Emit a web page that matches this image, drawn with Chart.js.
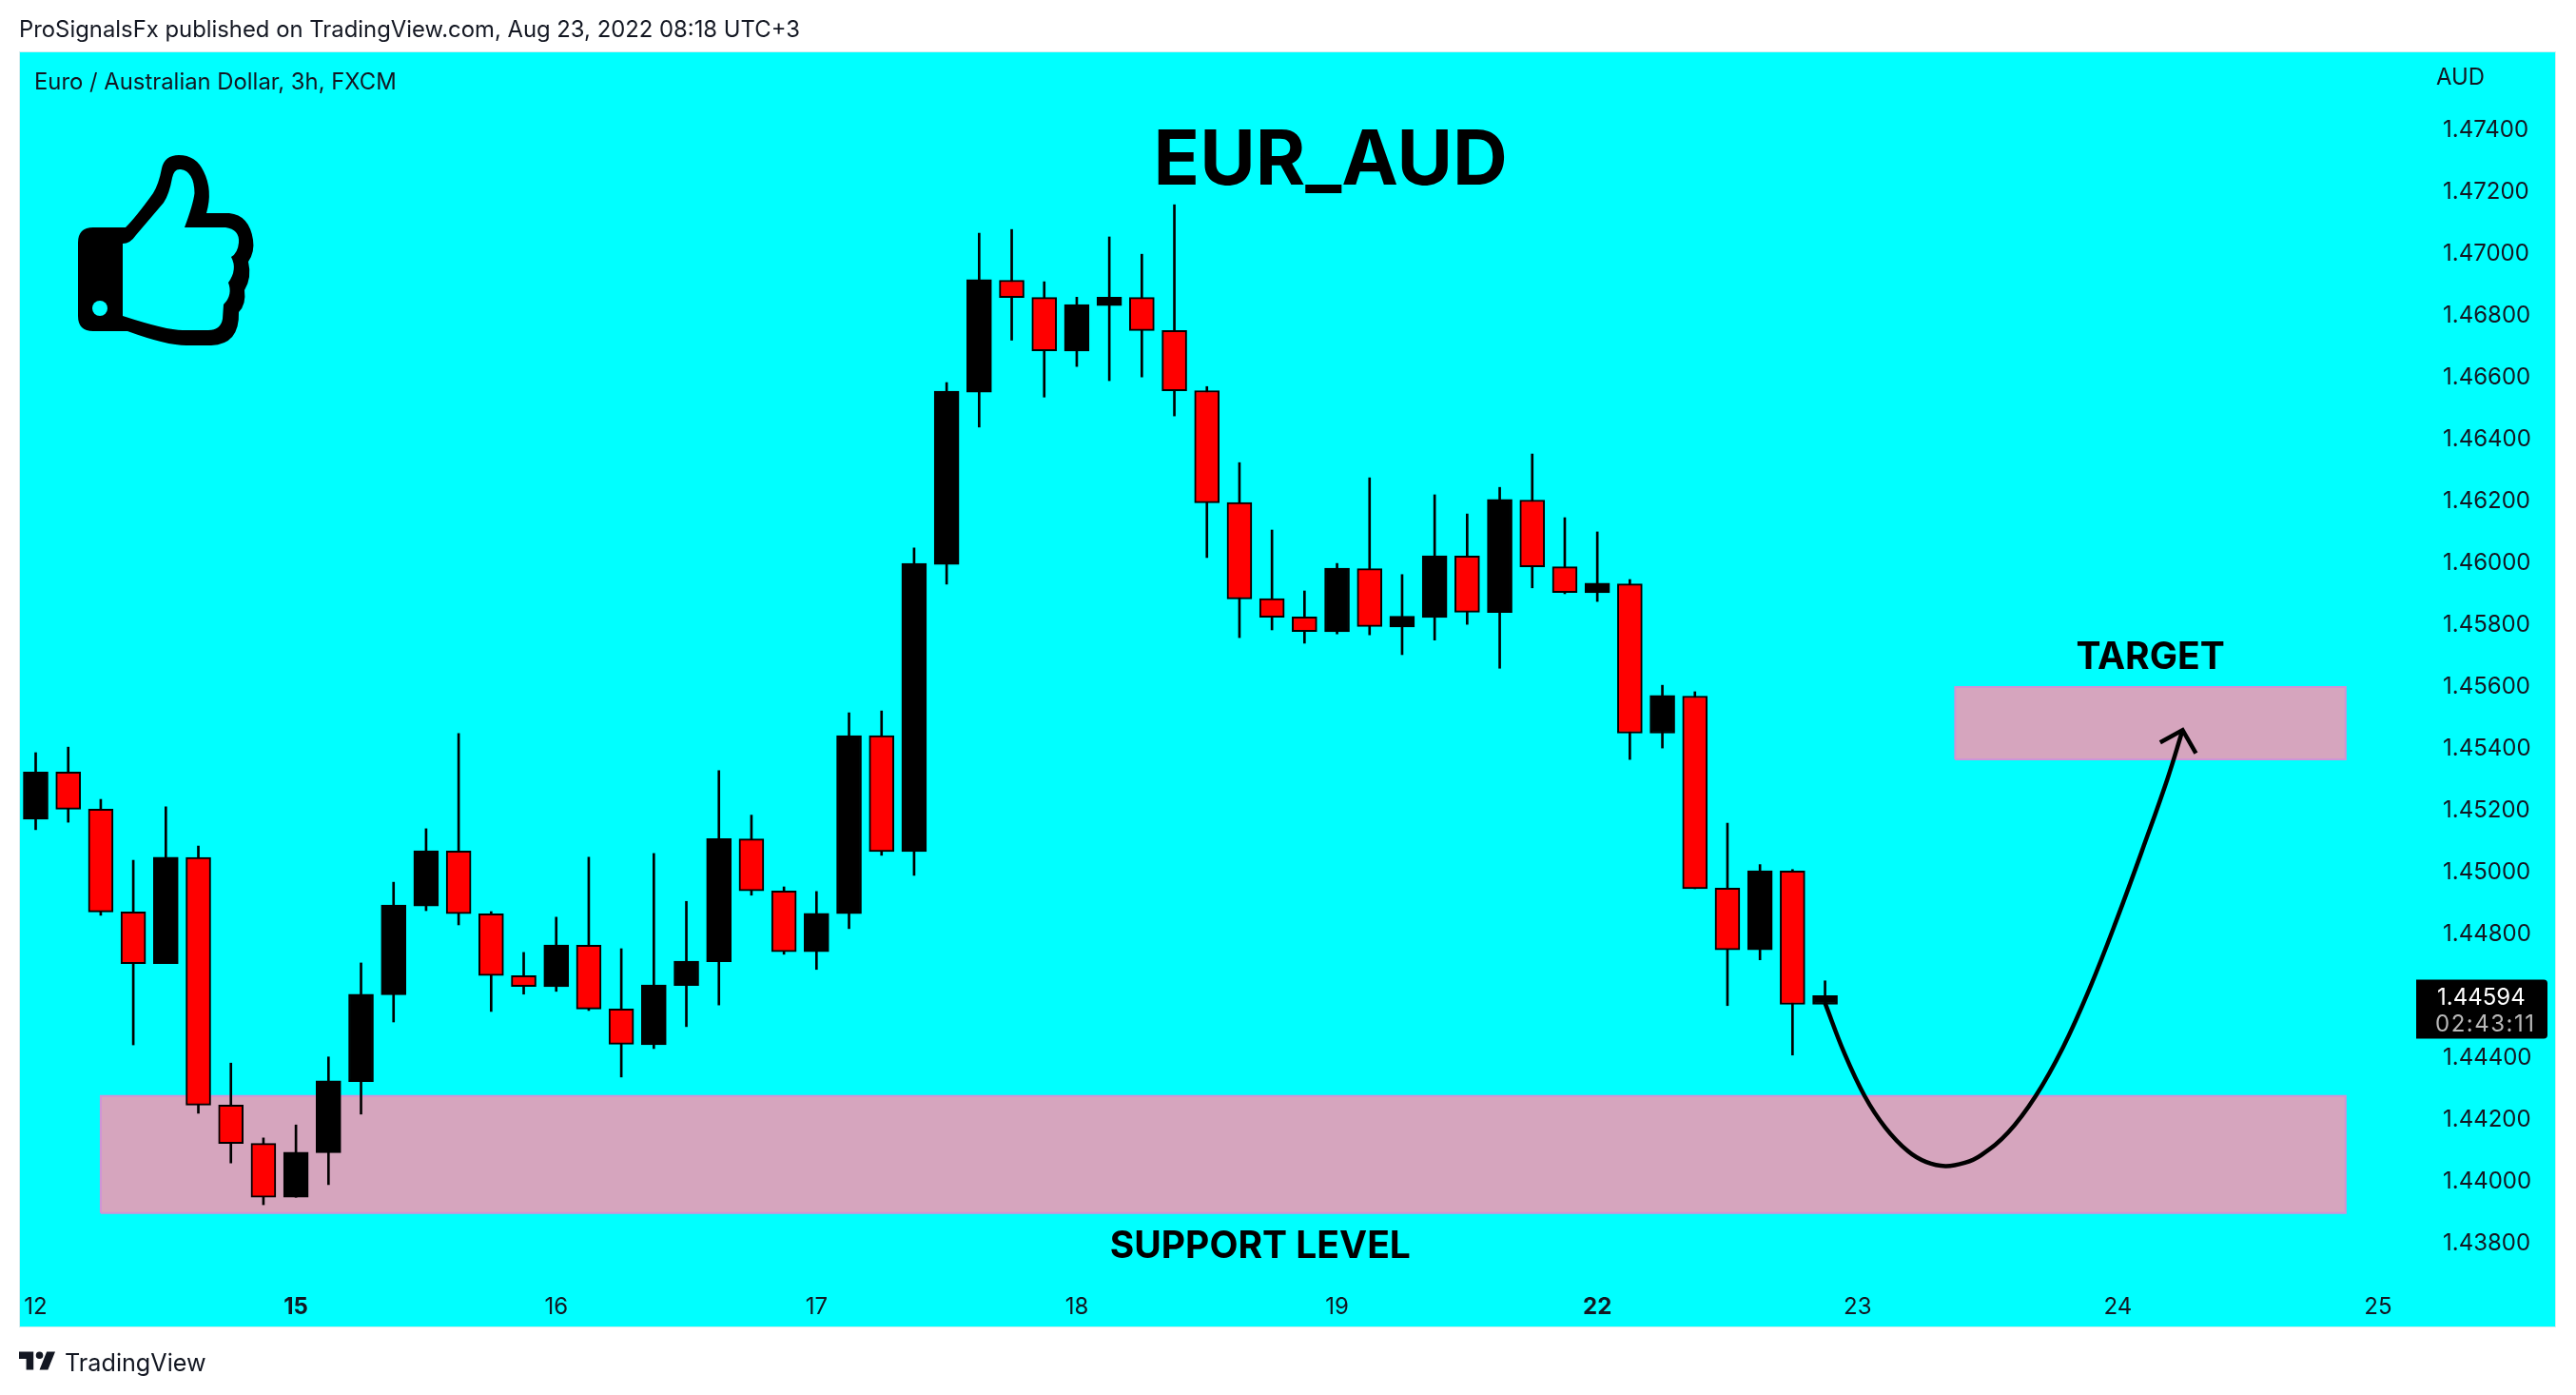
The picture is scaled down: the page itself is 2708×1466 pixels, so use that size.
<!DOCTYPE html>
<html>
<head>
<meta charset="utf-8">
<title>EUR_AUD</title>
<script src="https://cdn.jsdelivr.net/npm/chart.js@4"></script>
<style>
  html, body { margin: 0; padding: 0; background: #fff; width: 2708px; height: 1466px; overflow: hidden; }
  body { position: relative; font-family: Inter, sans-serif; color: #131722; }
  #panel { position: absolute; left: 20px; top: 54px; width: 2665px; height: 1339px; background: #00ffff; border: 1px solid #d6eef0; }
  #chart { position: absolute; left: 0; top: 0; }
  .txt { position: absolute; white-space: nowrap; font-size: 23.85px; line-height: 30px; }
  #thumb, #logo { position: absolute; }
</style>
</head>
<body>
<div id="panel"></div>
<canvas id="chart" width="2708" height="1466"></canvas>
<div class="txt" style="left:20px;top:16px">ProSignalsFx published on TradingView.com, Aug 23, 2022 08:18 UTC+3</div>
<div class="txt" style="left:36px;top:71px">Euro / Australian Dollar, 3h, FXCM</div>
<div class="txt" style="left:2561px;top:66px">AUD</div>
<svg id="thumb" style="left:0;top:0" width="300" height="400">
  <path fill="#000" fill-rule="evenodd" d="M98 239 H132 Q143 228 161 203 Q167 193 170 177 Q173 163 188 163 Q206 163 214 180 Q224 200 217 224 H241 Q262 226 266 252 Q268 265 261 275 Q265 292 257 305 Q259 320 251 328 Q252 362 222 363 H196 Q175 363 134 348 H98 Q82 348 82 332 V255 Q82 239 98 239 Z M129 256 Q137 256 143 247 L172 213 Q178 204 181 187 Q183 177 190 178 Q204 180 204.5 203 Q203 215 194 239 H237 Q252 241 251 255 Q250 266 243 270 Q250 283 240 297 Q245 310 235 320 L234 335 Q232 347 219 347 H192 Q175 347 129 332 Z"/>
  <circle cx="105" cy="324" r="8" fill="#00ffff"/>
</svg>
<svg id="logo" style="left:20px;top:1420px" width="38" height="20" viewBox="2 6 30 15">
  <path fill="#131722" d="M14 6H2v6h6v9h6V6zm12 15h-7l6-15h7l-6 15zm-7-9a3 3 0 1 0 0-6 3 3 0 0 0 0 6z"/>
</svg>
<div class="txt" style="left:68px;top:1417px;font-size:25.2px">TradingView</div>
<script>
// 3h candles, black = up, red = down
const opens = [1.45165,1.45317,1.45197,1.44865,1.44698,1.45041,1.44240,1.44116,1.43942,1.44086,1.44316,1.44597,1.44884,1.45062,1.44859,1.44659,1.44623,1.44757,1.44551,1.44435,1.44627,1.44704,1.45101,1.44933,1.44736,1.44859,1.45435,1.45060,1.45989,1.46546,1.46908,1.46852,1.46679,1.46826,1.46852,1.46745,1.46551,1.46189,1.45878,1.45819,1.45771,1.45975,1.45786,1.45817,1.46016,1.45833,1.46197,1.45981,1.45897,1.45926,1.45443,1.45563,1.44942,1.44742,1.44997,1.44566];
const closes = [1.45317,1.45197,1.44865,1.44698,1.45042,1.44240,1.44116,1.43942,1.44088,1.44319,1.44599,1.44887,1.45063,1.44859,1.44659,1.44624,1.44758,1.44551,1.44437,1.44629,1.44706,1.45102,1.44933,1.44736,1.44860,1.45435,1.45060,1.45992,1.46549,1.46910,1.46852,1.46680,1.46829,1.46853,1.46745,1.46550,1.46188,1.45877,1.45818,1.45772,1.45977,1.45788,1.45821,1.46017,1.45834,1.46199,1.45981,1.45898,1.45928,1.45443,1.45565,1.44940,1.44742,1.44998,1.44566,1.44594];
const highs = [1.45380,1.45398,1.45229,1.45032,1.45205,1.45078,1.44376,1.44134,1.44176,1.44396,1.44700,1.44961,1.45134,1.45442,1.44866,1.44734,1.44848,1.45042,1.44746,1.45054,1.44899,1.45322,1.45178,1.44946,1.44931,1.45509,1.45515,1.46042,1.46577,1.47060,1.47072,1.46903,1.46853,1.47048,1.46992,1.47152,1.46564,1.46318,1.46100,1.45903,1.45992,1.46269,1.45956,1.46214,1.46152,1.46238,1.46346,1.46140,1.46094,1.45940,1.45598,1.45577,1.45152,1.45018,1.45002,1.44642];
const lows = [1.45131,1.45155,1.44854,1.44435,1.44698,1.44214,1.44053,1.43918,1.43942,1.43983,1.44211,1.44509,1.44869,1.44823,1.44543,1.44599,1.44608,1.44546,1.44331,1.44423,1.44494,1.44564,1.44919,1.44728,1.44679,1.44811,1.45048,1.44983,1.45925,1.46433,1.46714,1.46530,1.46629,1.46583,1.46595,1.46469,1.46011,1.45752,1.45777,1.45734,1.45764,1.45761,1.45697,1.45744,1.45795,1.45653,1.45913,1.45894,1.45869,1.45358,1.45395,1.44940,1.44562,1.44710,1.44402,1.44564];

const dayLabels = ['12','15','16','17','18','19','22','23','24','25'];
const dayCandles = [0,8,16,24,32,40,48,56,64,72];
const boldDays = ['15','22'];
const priceTicks = [1.438,1.44,1.442,1.444,1.448,1.45,1.452,1.454,1.456,1.458,1.46,1.462,1.464,1.466,1.468,1.47,1.472,1.474];

const lastPrice = 1.44594;
const countdown = '02:43:11';

const supportX = [2,71];
const supportY = [1.43891,1.4427];
const targetX = [59,71];
const targetY = [1.45358,1.45592];

const arrowX = [55,55.59,56.22,56.85,57.55,58.11,58.7,59.3,59.79,60.63,61.47,62.31,63.15,63.99,64.83,65.53,65.99];
const arrowY = [1.4457,1.44409,1.44269,1.44168,1.44091,1.44056,1.44043,1.44054,1.44078,1.44152,1.44269,1.44426,1.44622,1.44847,1.45088,1.45297,1.45453];
const headX = [65.3,65.99,66.4];
const headY = [1.45413,1.45453,1.45378];

const noteLabels = ['EUR_AUD','TARGET','SUPPORT LEVEL'];
const noteX = [39.8,65,37.64];
const noteY = [1.47291,1.45688,1.43781];
const noteFonts = ['700 80px Inter','700 39px Inter','700 39px Inter'];

const candleIdx = opens.map((_, i) => i);
const candleColor = candleIdx.map(i => closes[i] >= opens[i] ? '#000000' : '#ff0000');

// filled band from the top edge down to the low value
function zoneFill(xs, ys) {
  return {
    type: 'line',
    order: 5,
    data: [{x: xs[0], y: ys[1]}, {x: xs[1], y: ys[1]}],
    borderWidth: 0,
    backgroundColor: '#d6a5be',
    fill: {value: ys[0]},
    pointRadius: 0
  };
}

function zoneEdge(xs, ys) {
  return {
    type: 'line',
    order: 4,
    data: [
      {x: xs[0], y: ys[0]}, {x: xs[0], y: ys[1]}, {x: xs[1], y: ys[1]}, {x: xs[1], y: ys[0]}, {x: xs[0], y: ys[0]}
    ],
    borderColor: '#cf94d6',
    borderWidth: 2,
    fill: false,
    pointRadius: 0,
    tension: 0
  };
}

const noteText = {
  id: 'noteText',
  afterDatasetsDraw(chart) {
    const {ctx, scales: {x, y}} = chart;
    ctx.save();
    ctx.letterSpacing = '0px';
    ctx.fillStyle = '#000';
    ctx.textAlign = 'center';
    ctx.textBaseline = 'middle';
    noteLabels.forEach((t, i) => {
      ctx.font = noteFonts[i];
      ctx.fillText(t, x.getPixelForValue(noteX[i]), y.getPixelForValue(noteY[i]));
    });
    ctx.restore();
  }
};

const priceBox = {
  id: 'priceBox',
  afterDraw(chart) {
    const {ctx, scales: {y}} = chart;
    const py = y.getPixelForValue(lastPrice);
    ctx.save();
    ctx.fillStyle = '#000';
    ctx.beginPath();
    ctx.roundRect(2540, py - 17, 138, 62, [0, 4, 4, 0]);
    ctx.fill();
    ctx.font = '24px Inter';
    ctx.textAlign = 'left';
    ctx.textBaseline = 'middle';
    ctx.fillStyle = '#fff';
    ctx.fillText(lastPrice.toFixed(5), 2562, py + 2);
    ctx.letterSpacing = '1.5px';
    ctx.fillStyle = '#b8b8b8';
    ctx.fillText(countdown, 2560, py + 30);
    ctx.restore();
  }
};

const ctx2d = document.getElementById('chart').getContext('2d');
ctx2d.letterSpacing = '0.3px';

new Chart(ctx2d, {
  type: 'bar',
  plugins: [noteText, priceBox],
  data: {
    datasets: [
      {
        label: 'wick',
        order: 3,
        grouped: false,
        data: candleIdx.map(i => ({x: i, y: [lows[i], highs[i]]})),
        backgroundColor: '#000',
        barThickness: 2
      },
      {
        label: 'body',
        order: 2,
        grouped: false,
        data: candleIdx.map(i => ({x: i, y: [opens[i], closes[i]]})),
        backgroundColor: candleColor,
        borderColor: '#000',
        borderWidth: 2,
        borderSkipped: false,
        barThickness: 26
      },
      zoneFill(supportX, supportY),
      zoneEdge(supportX, supportY),
      zoneFill(targetX, targetY),
      zoneEdge(targetX, targetY),
      {
        type: 'line',
        order: 1,
        data: arrowX.map((v, i) => ({x: v, y: arrowY[i]})),
        borderColor: '#000',
        borderWidth: 4.5,
        pointRadius: 0,
        tension: 0.4,
        fill: false
      },
      {
        type: 'line',
        order: 1,
        data: headX.map((v, i) => ({x: v, y: headY[i]})),
        borderColor: '#000',
        borderWidth: 4.5,
        pointRadius: 0,
        tension: 0,
        fill: false
      }
    ]
  },
  options: {
    responsive: false,
    devicePixelRatio: 1,
    animation: false,
    layout: {padding: {left: 20, top: 54, right: 21, bottom: 71}},
    plugins: {legend: {display: false}, tooltip: {enabled: false}, title: {display: false}},
    scales: {
      x: {
        type: 'linear',
        offset: false,
        min: -0.512,
        max: 73.17,
        grid: {display: false},
        border: {display: false},
        afterFit(axis) { axis.height = 50; },
        afterBuildTicks(axis) { axis.ticks = dayCandles.map(v => ({value: v})); },
        ticks: {
          autoSkip: false,
          maxRotation: 0,
          padding: 6,
          color: '#131722',
          font: ctx => ({family: 'Inter', size: 24, weight: ctx.tick && boldDays.includes(dayLabels[dayCandles.indexOf(ctx.tick.value)]) ? '700' : '400'}),
          callback: v => dayLabels[dayCandles.indexOf(v)]
        }
      },
      y: {
        position: 'right',
        min: 1.43675,
        max: 1.47648,
        grid: {display: false},
        border: {display: false},
        afterFit(axis) { axis.width = 147; },
        afterBuildTicks(axis) { axis.ticks = priceTicks.map(v => ({value: v})); },
        ticks: {
          autoSkip: false,
          padding: 20,
          labelOffset: 2,
          color: '#131722',
          font: {family: 'Inter', size: 24},
          callback: v => v.toFixed(5)
        }
      }
    }
  }
});
</script>
</body>
</html>
